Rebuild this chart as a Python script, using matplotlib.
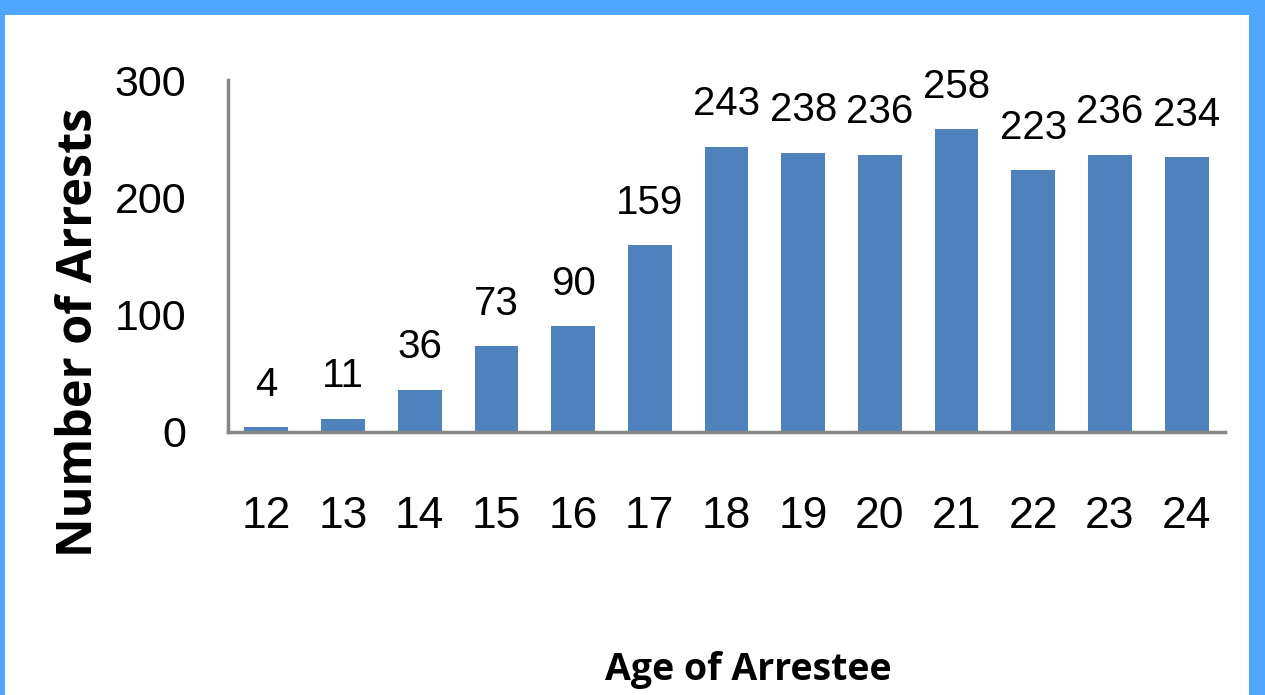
import matplotlib
matplotlib.use('Agg')
import matplotlib.pyplot as plt
from matplotlib.patches import Rectangle

ages = ['12', '13', '14', '15', '16', '17', '18', '19', '20', '21', '22', '23', '24']
arrests = [4, 11, 36, 73, 90, 159, 243, 238, 236, 258, 223, 236, 234]
y_ticks = [0, 100, 200, 300]

num_font = ['Liberation Sans', 'DejaVu Sans']
label_font = ['Open Sans', 'DejaVu Sans']

fig = plt.figure(figsize=(12.65, 6.95), dpi=100)
fig.patch.set_facecolor('#4FA6FF')
# white panel inside the blue frame
fig.patches.append(Rectangle((5 / 1265, 0), (1249 - 5) / 1265, (695 - 15) / 695,
                             transform=fig.transFigure, facecolor='white',
                             edgecolor='none', zorder=-10))

ax = fig.add_axes([228 / 1265, 1 - 432 / 695, (1225 - 228) / 1265, (432 - 80) / 695])
ax.set_facecolor('none')
ax.set_zorder(5)

x = range(len(ages))
bars = ax.bar(x, arrests, width=0.57, color='#4F81BD', zorder=2)

for xi, v in zip(x, arrests):
    ax.annotate(str(v), (xi, v), xytext=(0, 17), textcoords='offset points',
                ha='center', va='bottom', fontsize=29, family=num_font)

ax.set_xlim(-0.5, len(ages) - 0.5)
ax.set_ylim(0, 300)
ax.set_xticks(list(x))
ax.set_xticklabels(ages, fontsize=32, family=num_font)
ax.set_yticks(y_ticks)
ax.set_yticklabels([str(t) for t in y_ticks], fontsize=31, family=num_font)
ax.tick_params(axis='x', length=0, pad=46)
ax.tick_params(axis='y', length=0, pad=30)

for s in ['top', 'right']:
    ax.spines[s].set_visible(False)
for s in ['left', 'bottom']:
    ax.spines[s].set_color('#868686')
    ax.spines[s].set_linewidth(2.5)

fig.text(80 / 1265, 1 - 332 / 695, 'Number of Arrests', rotation=90,
         ha='center', va='center', fontsize=35, fontweight='bold', family=label_font)
fig.text(748 / 1265, 1 - 670 / 695, 'Age of Arrestee',
         ha='center', va='center', fontsize=27, fontweight='bold', family=label_font)

fig.savefig('out.png', dpi=100, facecolor=fig.get_facecolor())
